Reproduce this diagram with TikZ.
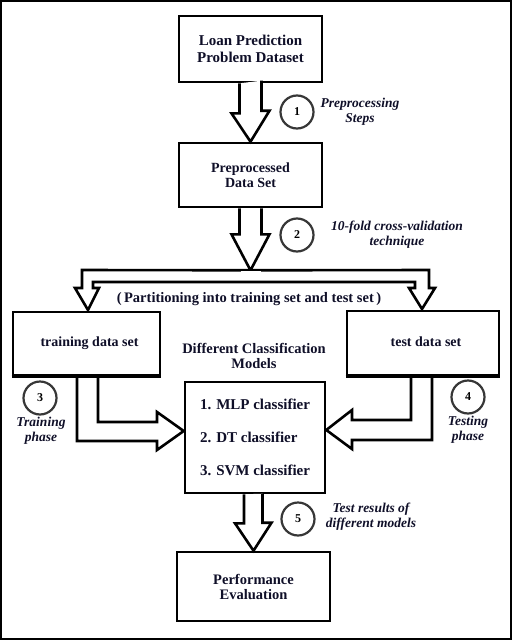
\documentclass[tikz,border=0pt]{standalone}
\usepackage{fontspec}
\setmainfont{Liberation Serif}
\usetikzlibrary{calc}
\definecolor{txt}{RGB}{15,15,40}
\definecolor{circ}{RGB}{55,55,55}
\tikzset{
  box/.style={draw=black, line width=2.6pt, fill=white, align=center, text=txt, font=\bfseries\fontsize{14.5}{17}\selectfont, inner sep=0pt},
  blockarrow/.style={draw=black, line width=2.6pt, line join=miter, fill=white},
  stepcirc/.style={draw=circ, line width=2.2pt, circle, minimum size=32pt, inner sep=0pt, text=black, font=\bfseries\fontsize{12}{14}\selectfont},
  lbl/.style={align=center, text=txt, font=\bfseries\itshape\fontsize{13.5}{15}\selectfont, inner sep=0pt},
  plain/.style={align=center, text=txt, font=\bfseries\fontsize{14.5}{15}\selectfont, inner sep=0pt}
}
\begin{document}
\begin{tikzpicture}[x=1pt,y=-1pt]
\useasboundingbox (0,0) rectangle (512,640);
\draw[line width=2pt] (1,1) rectangle (511,639);

% boxes
\node[box, minimum width=143pt, minimum height=66pt, font=\bfseries\fontsize{15}{17}\selectfont] (loan) at (250.5,49) {Loan Prediction\\Problem Dataset};
\node[box, minimum width=143pt, minimum height=64pt, font=\bfseries\fontsize{14}{15}\selectfont] (prep) at (250.5,175) {Preprocessed\\Data Set};
\node[box, minimum width=147pt, minimum height=63pt, font=\bfseries\fontsize{14}{15}\selectfont] (train) at (86.5,343.5) {\hspace*{6pt}training data set};
\node[box, minimum width=152pt, minimum height=64pt, font=\bfseries\fontsize{14}{15}\selectfont] (test) at (423,343) {\raisebox{3pt}{\hspace*{6pt}test data set}};
\node[box, minimum width=140pt, minimum height=111pt, align=left, font=\bfseries\fontsize{15}{17}\selectfont] (models) at (255,437.5) {1. MLP classifier\\[16pt]2. DT classifier\\[16pt]3. SVM classifier};
\node[box, minimum width=153pt, minimum height=69pt, font=\bfseries\fontsize{14.5}{15}\selectfont] (perf) at (253.5,586.5) {Performance\\Evaluation};

% arrow 1
\draw[blockarrow] ($(loan.south)+(-11,0)$) -- ++(0,30) -- ++(-8,0) -- (prep.north) -- ++(19,-31) -- ++(-8,0) -- ++(0,-30);
% arrow 2
\draw[blockarrow] ($(prep.south)+(-11,0)$) -- ++(0,26) -- ++(-8,0) -- ($(prep.south)+(0,62)$) coordinate (split) -- ++(19,-36) -- ++(-8,0) -- ++(0,-26);
% split arrow
\draw[blockarrow] (split) -- (82,270) -- (82,288) -- (75,288) -- (88,310) coordinate (tl) -- (99,288) -- (93,288) -- (93,282) -- (415,282) -- (415,288) -- (409,288) -- (422,309) coordinate (tr) -- (435,288) -- (429,288) -- (429,270) -- cycle;
\draw[white, line width=3pt] ($(split)+(-10,0)$) -- ($(split)+(10,0)$);
\draw[blockarrow, fill=none] (82,270) -- (429,270);

% arrow 3 (training -> models)
\draw[blockarrow] (77,375) -- (77,441) -- (157,441) -- (157,450) -- (models.west |- 0,431) coordinate (tip3) -- (157,412) -- (157,422) -- (98,422) -- (98,375);
% arrow 4 (test -> models)
\draw[blockarrow] (432,375) -- (432,440) -- (352,440) -- (352,449) -- (models.east |- 0,430) -- (352,410) -- (352,420) -- (411,420) -- (411,375);
% redraw box edges on top
\draw[line width=2.6pt] (train.south west) -- (train.south east);
\draw[line width=2.6pt] (test.south west) -- (test.south east);

% arrow 5
\draw[blockarrow] ($(models.south)+(-11,0)$) -- ++(0,29) -- ++(-9,0) -- (perf.north) -- ++(18,-28) -- ++(-9,0) -- ++(0,-29);

% texts
\node[plain] (part) at (249,299) {(\,Partitioning into training set and test set\,)};
\node[plain] (dcm) at (254,356) {Different Classification\\Models};

% step circles and labels
\node[stepcirc, minimum size=33pt] (c1) at (297,112) {1};
\node[lbl] (l1) at (360,112) {Preprocessing\\Steps};
\node[stepcirc, minimum size=33pt] (c2) at (297,235) {2};
\node[lbl] (l2) at (397,235) {10-fold cross-validation\\technique};
\node[stepcirc, minimum size=33pt] (c3) at (40,398) {3};
\node[lbl] (l3) at (41,431) {Training\\phase};
\node[stepcirc, minimum size=33pt] (c4) at (468,397) {4};
\node[lbl] (l4) at (468,430) {Testing\\phase};
\node[stepcirc, minimum size=33pt] (c5) at (298,519) {5};
\node[lbl] (l5) at (371,517) {Test results of\\different models};
\end{tikzpicture}
\end{document}
